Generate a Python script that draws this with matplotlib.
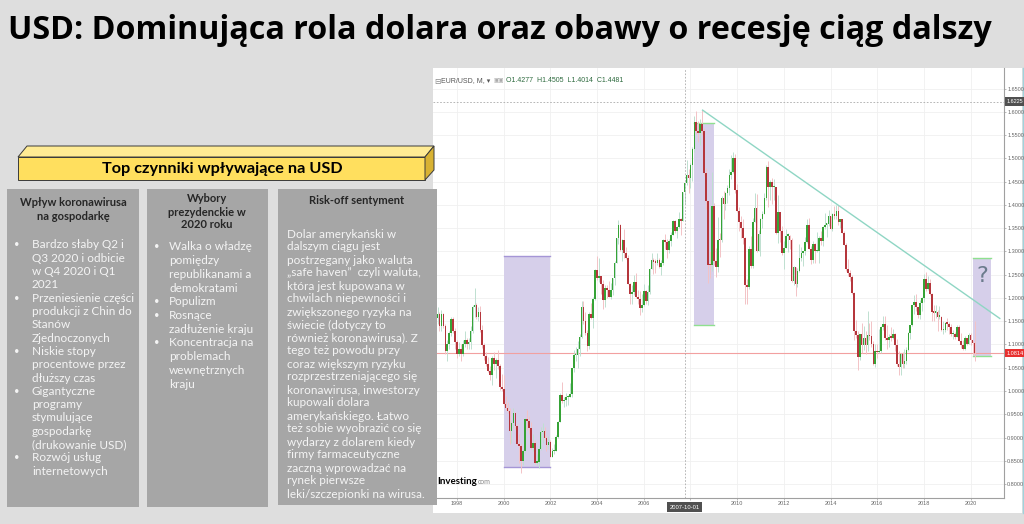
import matplotlib
matplotlib.use('Agg')
import matplotlib.pyplot as plt
import numpy as np
from matplotlib.patches import Rectangle, Polygon
from matplotlib.lines import Line2D

# ---------------- data: EUR/USD monthly candles, Jan 1997 - Mar 2020 ----------------
start_year = 1997
first_open = 1.255
eurusd_close = [
    1.207, 1.157, 1.165, 1.140, 1.165, 1.140, 1.085, 1.100, 1.125, 1.155, 1.130, 1.105,  # 1997
    1.080, 1.090, 1.080, 1.100, 1.110, 1.100, 1.105, 1.130, 1.180, 1.185, 1.160, 1.170,  # 1998
    1.131, 1.099, 1.076, 1.059, 1.043, 1.034, 1.071, 1.058, 1.066, 1.053, 1.008, 1.005,  # 1999
    0.971, 0.964, 0.957, 0.913, 0.931, 0.953, 0.925, 0.887, 0.882, 0.849, 0.870, 0.940,  # 2000
    0.936, 0.921, 0.877, 0.888, 0.846, 0.848, 0.875, 0.911, 0.913, 0.900, 0.883, 0.890,  # 2001
    0.859, 0.870, 0.872, 0.901, 0.934, 0.991, 0.978, 0.981, 0.987, 0.987, 0.993, 1.049,  # 2002
    1.077, 1.078, 1.091, 1.116, 1.181, 1.150, 1.124, 1.097, 1.166, 1.158, 1.198, 1.260,  # 2003
    1.244, 1.247, 1.231, 1.196, 1.222, 1.217, 1.203, 1.218, 1.243, 1.276, 1.328, 1.357,  # 2004
    1.304, 1.325, 1.296, 1.287, 1.230, 1.209, 1.212, 1.234, 1.203, 1.198, 1.179, 1.184,  # 2005
    1.216, 1.193, 1.212, 1.262, 1.282, 1.278, 1.276, 1.281, 1.267, 1.276, 1.325, 1.320,  # 2006
    1.303, 1.323, 1.335, 1.366, 1.345, 1.353, 1.369, 1.365, 1.4277, 1.4481, 1.465, 1.459,  # 2007
    1.486, 1.520, 1.579, 1.559, 1.555, 1.575, 1.560, 1.468, 1.409, 1.272, 1.270, 1.397,  # 2008
    1.280, 1.266, 1.325, 1.324, 1.414, 1.403, 1.426, 1.436, 1.464, 1.472, 1.500, 1.433,  # 2009
    1.387, 1.363, 1.351, 1.330, 1.227, 1.223, 1.305, 1.268, 1.363, 1.393, 1.301, 1.337,  # 2010
    1.369, 1.381, 1.416, 1.481, 1.439, 1.450, 1.438, 1.438, 1.340, 1.386, 1.345, 1.296,  # 2011
    1.308, 1.334, 1.334, 1.324, 1.237, 1.266, 1.230, 1.257, 1.286, 1.296, 1.300, 1.320,  # 2012
    1.358, 1.306, 1.282, 1.317, 1.300, 1.301, 1.330, 1.322, 1.352, 1.358, 1.359, 1.376,  # 2013
    1.349, 1.380, 1.377, 1.387, 1.363, 1.369, 1.339, 1.313, 1.263, 1.253, 1.245, 1.210,  # 2014
    1.129, 1.120, 1.073, 1.122, 1.098, 1.115, 1.098, 1.121, 1.118, 1.100, 1.058, 1.086,  # 2015
    1.083, 1.087, 1.138, 1.145, 1.113, 1.110, 1.117, 1.115, 1.123, 1.098, 1.059, 1.052,  # 2016
    1.080, 1.058, 1.065, 1.089, 1.124, 1.143, 1.184, 1.191, 1.181, 1.164, 1.190, 1.200,  # 2017
    1.241, 1.219, 1.232, 1.208, 1.169, 1.168, 1.169, 1.160, 1.160, 1.131, 1.132, 1.146,  # 2018
    1.145, 1.137, 1.122, 1.122, 1.117, 1.137, 1.108, 1.098, 1.090, 1.115, 1.101, 1.121,  # 2019
    1.109, 1.103, 1.0814,                                                                # 2020
]
eurusd_high = [
    1.262, 1.215, 1.180, 1.170, 1.175, 1.168, 1.145, 1.110, 1.130, 1.160, 1.160, 1.135,
    1.110, 1.105, 1.100, 1.110, 1.130, 1.115, 1.115, 1.140, 1.185, 1.222, 1.190, 1.180,
    1.182, 1.142, 1.104, 1.083, 1.074, 1.054, 1.076, 1.083, 1.072, 1.089, 1.057, 1.037,
    1.034, 0.989, 0.977, 0.964, 0.937, 0.964, 0.954, 0.930, 0.907, 0.887, 0.876, 0.942,
    0.959, 0.947, 0.934, 0.907, 0.895, 0.865, 0.882, 0.923, 0.932, 0.922, 0.903, 0.904,
    0.894, 0.878, 0.887, 0.905, 0.936, 0.995, 1.019, 0.987, 0.995, 0.992, 1.017, 1.050,
    1.089, 1.094, 1.108, 1.123, 1.193, 1.193, 1.169, 1.132, 1.170, 1.189, 1.203, 1.263,
    1.290, 1.287, 1.245, 1.238, 1.228, 1.227, 1.236, 1.232, 1.244, 1.279, 1.330, 1.367,
    1.359, 1.327, 1.348, 1.310, 1.292, 1.232, 1.229, 1.250, 1.253, 1.217, 1.215, 1.209,
    1.230, 1.217, 1.227, 1.264, 1.296, 1.287, 1.283, 1.296, 1.286, 1.281, 1.327, 1.337,
    1.327, 1.326, 1.341, 1.368, 1.368, 1.354, 1.385, 1.372, 1.428, 1.4505, 1.497, 1.477,
    1.490, 1.525, 1.591, 1.602, 1.580, 1.584, 1.604, 1.565, 1.479, 1.409, 1.301, 1.471,
    1.404, 1.307, 1.374, 1.339, 1.420, 1.430, 1.428, 1.443, 1.478, 1.508, 1.514, 1.509,
    1.446, 1.396, 1.376, 1.369, 1.331, 1.240, 1.312, 1.333, 1.373, 1.426, 1.424, 1.346,
    1.372, 1.387, 1.425, 1.487, 1.494, 1.454, 1.458, 1.455, 1.437, 1.421, 1.383, 1.355,
    1.323, 1.349, 1.339, 1.336, 1.328, 1.269, 1.239, 1.264, 1.317, 1.309, 1.301, 1.331,
    1.369, 1.371, 1.312, 1.322, 1.318, 1.342, 1.334, 1.345, 1.355, 1.383, 1.362, 1.389,
    1.377, 1.383, 1.397, 1.399, 1.399, 1.370, 1.370, 1.343, 1.319, 1.283, 1.260, 1.250,
    1.212, 1.153, 1.128, 1.122, 1.147, 1.139, 1.129, 1.171, 1.146, 1.150, 1.108, 1.101,
    1.100, 1.134, 1.140, 1.162, 1.162, 1.142, 1.122, 1.137, 1.133, 1.124, 1.112, 1.087,
    1.082, 1.083, 1.091, 1.095, 1.126, 1.143, 1.186, 1.207, 1.209, 1.181, 1.196, 1.203,
    1.251, 1.256, 1.248, 1.240, 1.210, 1.185, 1.186, 1.174, 1.182, 1.162, 1.150, 1.149,
    1.157, 1.149, 1.145, 1.132, 1.127, 1.141, 1.142, 1.125, 1.110, 1.118, 1.109, 1.124,
    1.124, 1.110, 1.1495,
]
eurusd_low = [
    1.200, 1.150, 1.145, 1.130, 1.130, 1.135, 1.080, 1.065, 1.090, 1.118, 1.125, 1.090,
    1.070, 1.075, 1.065, 1.075, 1.095, 1.090, 1.090, 1.090, 1.125, 1.160, 1.155, 1.150,
    1.127, 1.092, 1.066, 1.054, 1.040, 1.023, 1.013, 1.045, 1.028, 1.048, 1.002, 1.000,
    0.969, 0.960, 0.953, 0.886, 0.888, 0.920, 0.918, 0.884, 0.845, 0.823, 0.840, 0.866,
    0.917, 0.907, 0.875, 0.872, 0.844, 0.840, 0.834, 0.874, 0.888, 0.894, 0.871, 0.875,
    0.857, 0.860, 0.864, 0.872, 0.900, 0.933, 0.975, 0.965, 0.967, 0.970, 0.987, 0.987,
    1.040, 1.065, 1.050, 1.075, 1.115, 1.145, 1.121, 1.085, 1.090, 1.154, 1.135, 1.195,
    1.239, 1.235, 1.208, 1.176, 1.181, 1.200, 1.203, 1.197, 1.206, 1.228, 1.276, 1.317,
    1.300, 1.279, 1.285, 1.284, 1.230, 1.187, 1.187, 1.207, 1.201, 1.187, 1.164, 1.169,
    1.182, 1.187, 1.185, 1.208, 1.262, 1.252, 1.253, 1.271, 1.264, 1.249, 1.272, 1.305,
    1.286, 1.296, 1.311, 1.335, 1.339, 1.329, 1.351, 1.335, 1.365, 1.4014, 1.444, 1.425,
    1.436, 1.452, 1.515, 1.553, 1.536, 1.530, 1.551, 1.463, 1.391, 1.233, 1.242, 1.258,
    1.270, 1.246, 1.256, 1.289, 1.320, 1.370, 1.389, 1.405, 1.421, 1.455, 1.469, 1.426,
    1.386, 1.343, 1.328, 1.316, 1.188, 1.188, 1.220, 1.265, 1.265, 1.370, 1.298, 1.304,
    1.290, 1.350, 1.384, 1.411, 1.395, 1.410, 1.403, 1.410, 1.337, 1.318, 1.321, 1.292,
    1.263, 1.307, 1.299, 1.306, 1.234, 1.229, 1.205, 1.224, 1.255, 1.279, 1.269, 1.293,
    1.318, 1.306, 1.274, 1.275, 1.275, 1.299, 1.276, 1.313, 1.312, 1.348, 1.332, 1.354,
    1.349, 1.345, 1.370, 1.370, 1.356, 1.350, 1.339, 1.314, 1.257, 1.248, 1.236, 1.209,
    1.110, 1.115, 1.046, 1.066, 1.081, 1.089, 1.080, 1.086, 1.109, 1.094, 1.056, 1.052,
    1.071, 1.081, 1.082, 1.131, 1.110, 1.091, 1.095, 1.108, 1.112, 1.087, 1.054, 1.035,
    1.034, 1.049, 1.049, 1.059, 1.087, 1.111, 1.140, 1.166, 1.173, 1.157, 1.155, 1.172,
    1.192, 1.215, 1.217, 1.206, 1.151, 1.151, 1.158, 1.130, 1.154, 1.130, 1.122, 1.127,
    1.131, 1.123, 1.118, 1.111, 1.111, 1.118, 1.110, 1.093, 1.088, 1.088, 1.098, 1.100,
    1.099, 1.078, 1.0636,
]

current_price = 1.0814
crosshair_date = 2007.75          # 2007-10-01
crosshair_price = 1.6225
crosshair_ohlc = ['O1.4277', 'H1.4505', 'L1.4014', 'C1.4481']

# annotations drawn on the price chart
trend_years = [2008.52, 2021.25]
trend_prices = [1.604, 1.156]
zone_years = [(2000.0, 2002.0), (2008.17, 2009.0), (2020.1, 2020.87)]
zone_prices = [(0.837, 1.290), (1.143, 1.577), (1.076, 1.286)]
zone_edge_colors = ['#a596d6', '#8fe08f', '#8fe08f']

year_ticks = list(range(1998, 2021, 2))
price_ticks = [round(0.80 + 0.05 * k, 2) for k in range(18)]

title = 'USD: Dominująca rola dolara oraz obawy o recesję ciąg dalszy'
banner = 'Top czynniki wpływające na USD'
col_heads = [['Wpływ koronawirusa', 'na gospodarkę'],
             ['Wybory', 'prezydenckie w', '2020 roku'],
             ['Risk-off sentyment']]
col1_lines = [
    (True, 'Bardzo słaby Q2 i'), (False, 'Q3 2020 i odbicie'), (False, 'w Q4 2020 i Q1'), (False, '2021'),
    (True, 'Przeniesienie części'), (False, 'produkcji z Chin do'), (False, 'Stanów'), (False, 'Zjednoczonych'),
    (True, 'Niskie stopy'), (False, 'procentowe przez'), (False, 'dłuższy czas'),
    (True, 'Gigantyczne'), (False, 'programy'), (False, 'stymulujące'), (False, 'gospodarkę'),
    (False, '(drukowanie USD)'),
    (True, 'Rozwój usług'), (False, 'internetowych'),
]
col2_lines = [
    (True, 'Walka o władzę'), (False, 'pomiędzy'), (False, 'republikanami a'), (False, 'demokratami'),
    (True, 'Populizm'),
    (True, 'Rosnące'), (False, 'zadłużenie kraju'),
    (True, 'Koncentracja na'), (False, 'problemach'), (False, 'wewnętrznych'), (False, 'kraju'),
]
col3_lines = [
    'Dolar amerykański w', 'dalszym ciągu jest', 'postrzegany jako waluta',
    '„safe haven”  czyli waluta,', 'która jest kupowana w', 'chwilach niepewności i',
    'zwiększonego ryzyka na', 'świecie (dotyczy to', 'również koronawirusa). Z',
    'tego też powodu przy', 'coraz większym ryzyku', 'rozprzestrzeniającego się',
    'koronawirusa, inwestorzy', 'kupowali dolara', 'amerykańskiego. Łatwo',
    'też sobie wyobrazić co się', 'wydarzy z dolarem kiedy', 'firmy farmaceutyczne',
    'zaczną wprowadzać na', 'rynek pierwsze', 'leki/szczepionki na wirusa.',
]

# ---------------- figure ----------------
W, H = 1024, 524
FONT = ['Lato', 'DejaVu Sans']
TITLE_FONT = ['Open Sans', 'DejaVu Sans']
NARROW = ['Liberation Sans Narrow', 'Liberation Sans', 'DejaVu Sans']
fig = plt.figure(figsize=(W / 100, H / 100), dpi=100)
fig.patch.set_facecolor('#dedede')
renderer = fig.canvas.get_renderer()


def fx(x):
    return x / W


def fy(y):
    return 1 - y / H


def fit_size(text, target_px, **kw):
    t = fig.text(0, 0, text, fontsize=10, **kw)
    w = t.get_window_extent(renderer).width
    t.remove()
    return 10 * target_px / w


# white chart panel behind the axes
fig.add_artist(Rectangle((fx(433), fy(513)), (1022 - 433) / W, (513 - 68) / H,
                         transform=fig.transFigure, fc='white', ec='none', zorder=-1))
fig.add_artist(Line2D([fx(1022.5), fx(1022.5)], [fy(513), fy(68)], transform=fig.transFigure,
                      color='#9fd3dc', lw=1.0, zorder=-0.5))

ax = fig.add_axes([fx(433), fy(498), (1004 - 433) / W, (498 - 68) / H])
ax.set_facecolor('white')
ax.set_xlim(1996.972, 2021.43)
ax.set_ylim(0.7699, 1.6946)

close = np.array(eurusd_close)
high = np.array(eurusd_high)
low = np.array(eurusd_low)
opn = np.r_[first_open, close[:-1]]
t = start_year + np.arange(len(close)) / 12.0
up = close >= opn

# grid
for yv in year_ticks:
    ax.axvline(yv, color='#f0f0f0', lw=0.6, zorder=0)
for pv in price_ticks:
    ax.axhline(pv, color='#f0f0f0', lw=0.6, zorder=0)

# highlighted zones
for (x0, x1), (p0, p1), ec in zip(zone_years, zone_prices, zone_edge_colors):
    ax.add_patch(Rectangle((x0, p0), x1 - x0, p1 - p0, fc='#d6cfea', ec='none', zorder=1))
    ax.plot([x0, x1], [p1, p1], color=ec, lw=1.0, zorder=1.5)
    ax.plot([x0, x1], [p0, p0], color=ec, lw=1.0, zorder=1.5)

# current price line
ax.axhline(current_price, color='#f2a0a0', lw=0.8, zorder=2)

# candles
wick_col = np.where(up, '#bfe0d0', '#f3c3c6')
ax.vlines(t, np.minimum(low, np.minimum(opn, close)), np.maximum(high, np.maximum(opn, close)),
          colors=wick_col, lw=0.7, zorder=3)
body_col = np.where(up, '#36a336', '#b5363c')
body_h = np.maximum(np.abs(close - opn), 0.003)
ax.bar(t, body_h, bottom=np.minimum(opn, close), width=0.07, color=body_col, lw=0, zorder=4)

# trend line
ax.plot(trend_years, trend_prices, color='#8fd6c4', lw=1.0, zorder=5)

# crosshair
ax.axvline(crosshair_date, color='#aaaaaa', lw=0.6, ls=(0, (2, 2)), zorder=6)
ax.axhline(crosshair_price, color='#aaaaaa', lw=0.6, ls=(0, (2, 2)), zorder=6)

# question mark inside the last zone
ax.text(sum(zone_years[2]) / 2, 1.248, '?', ha='center', va='center', fontsize=16,
        color='#6b7b8c', family=['DejaVu Sans'], zorder=7)

# axes styling
for s in ('top', 'left'):
    ax.spines[s].set_visible(False)
for s in ('right', 'bottom'):
    ax.spines[s].set_color('#a0a0a0')
    ax.spines[s].set_linewidth(0.8)
ax.yaxis.tick_right()
ax.set_yticks(price_ticks)
ax.set_yticklabels([f'{p:.4f}' for p in price_ticks], family=NARROW)
ax.set_xticks(year_ticks)
# the 2008 label sits under the crosshair date tag
ax.set_xticklabels(['' if y == 2008 else str(y) for y in year_ticks], family=NARROW)
ax.tick_params(axis='both', length=1.5, width=0.5, color='#a0a0a0', labelsize=4,
               labelcolor='#666666', pad=0.8)

# price / date tags
tag = dict(boxstyle='square,pad=0.3', ec='none')
ax.text(1.004, current_price, f'{current_price:.4f}', transform=ax.get_yaxis_transform(),
        ha='left', va='center', fontsize=4, color='white', clip_on=False, zorder=10,
        family=NARROW, bbox=dict(fc='#e8302f', **tag))
ax.text(1.004, crosshair_price, f'{crosshair_price:.4f}', transform=ax.get_yaxis_transform(),
        ha='left', va='center', fontsize=4, color='white', clip_on=False, zorder=10,
        family=NARROW, bbox=dict(fc='#505050', **tag))
ax.text(crosshair_date, -0.021, '2007-10-01', transform=ax.get_xaxis_transform(),
        ha='center', va='center', fontsize=4.2, color='white', clip_on=False, zorder=10,
        family=NARROW, bbox=dict(fc='#505050', boxstyle='square,pad=0.45', ec='none'))

# chart header and logo
fig.text(fx(434), fy(81), '⊟', fontsize=5.5, color='#888888', va='center', family=['DejaVu Sans'])
hdr = fig.text(fx(441), fy(81), 'EUR/USD, M, ▾', fontsize=5, color='#555555', va='center',
               family=NARROW)
hx = hdr.get_window_extent(renderer).x1
fig.text((hx + 3) / W, fy(81), '▣▣', fontsize=4, color='#aaaaaa', va='center',
         family=['DejaVu Sans'])
fig.text(fx(506), fy(81), '  '.join(crosshair_ohlc), fontsize=5, color='#2d6a3e', va='center',
         family=NARROW)
logo = fig.text(fx(437), fy(481), 'Investing', fontsize=7, fontweight='bold', color='black',
                va='center', family=FONT)
lx = logo.get_window_extent(renderer).x1
fig.text(lx / W + 0.0005, fy(482), 'com', fontsize=5, color='#888888', va='center', family=FONT)

# ---------------- slide elements ----------------
Z = 20
fs_title = fit_size(title, 985, fontweight='bold', family=TITLE_FONT)
fig.text(fx(8), fy(39), title, fontsize=fs_title, fontweight='bold', color='black',
         va='baseline', ha='left', family=TITLE_FONT, zorder=Z)

# 3D banner
front = [(18, 157), (425, 157), (425, 180), (18, 180)]
top = [(18, 157), (27, 146), (434, 146), (425, 157)]
side = [(425, 157), (434, 146), (434, 170), (425, 180)]
for poly, col in ((front, '#ffdf5e'), (top, '#ffeb94'), (side, '#d8b233')):
    fig.add_artist(Polygon([(fx(a), fy(b)) for a, b in poly], closed=True,
                           transform=fig.transFigure, fc=col, ec='#3a3a3a', lw=0.7, zorder=Z))
fs_banner = fit_size(banner, 240, fontweight='bold', family=FONT)
fig.text(fx(222), fy(168.5), banner, fontsize=fs_banner, fontweight='bold', color='black',
         ha='center', va='center', family=FONT, zorder=Z + 1)

# grey columns
cols = [(7, 139, 507), (147, 268, 507), (278, 437, 505)]
for x0, x1, yb in cols:
    fig.add_artist(Rectangle((fx(x0), fy(yb)), (x1 - x0) / W, (yb - 189) / H,
                             transform=fig.transFigure, fc='#a6a6a6', ec='none', zorder=Z))

fs_head = fit_size(col_heads[0][0], 107, fontweight='bold', family=FONT)
head_pos = [(73, [203, 216]), (207, [198, 212, 225]), (357, [200])]
for lines, (cx, ys) in zip(col_heads, head_pos):
    for txt, yy in zip(lines, ys):
        fig.text(fx(cx), fy(yy), txt, fontsize=fs_head, fontweight='bold', color='#262626',
                 ha='center', va='center', family=FONT, zorder=Z + 1)

body_col_txt = '#f4f4f4'
fs_body = 0.95 * np.mean([fit_size('Przeniesienie części', 100, family=FONT),
                          fit_size('zadłużenie kraju', 92, family=FONT),
                          fit_size('rozprzestrzeniającego się', 138, family=FONT)])


def bullet_column(lines, bx, tx, y0, dy):
    for k, (is_b, txt) in enumerate(lines):
        yy = y0 + k * dy
        if is_b:
            fig.text(fx(bx), fy(yy), '•', fontsize=fs_body * 0.8, color=body_col_txt,
                     ha='center', va='center', family=FONT, zorder=Z + 1)
        fig.text(fx(tx), fy(yy), txt, fontsize=fs_body, color=body_col_txt,
                 ha='left', va='center', family=FONT, zorder=Z + 1)


bullet_column(col1_lines, 17, 32, 245, 13.3)
bullet_column(col2_lines, 157, 169, 247, 13.7)
for k, txt in enumerate(col3_lines):
    fig.text(fx(287), fy(234 + k * 13.0), txt, fontsize=fs_body, color=body_col_txt,
             ha='left', va='center', family=FONT, zorder=Z + 1)

fig.savefig('out.png', dpi=100, facecolor=fig.get_facecolor())
